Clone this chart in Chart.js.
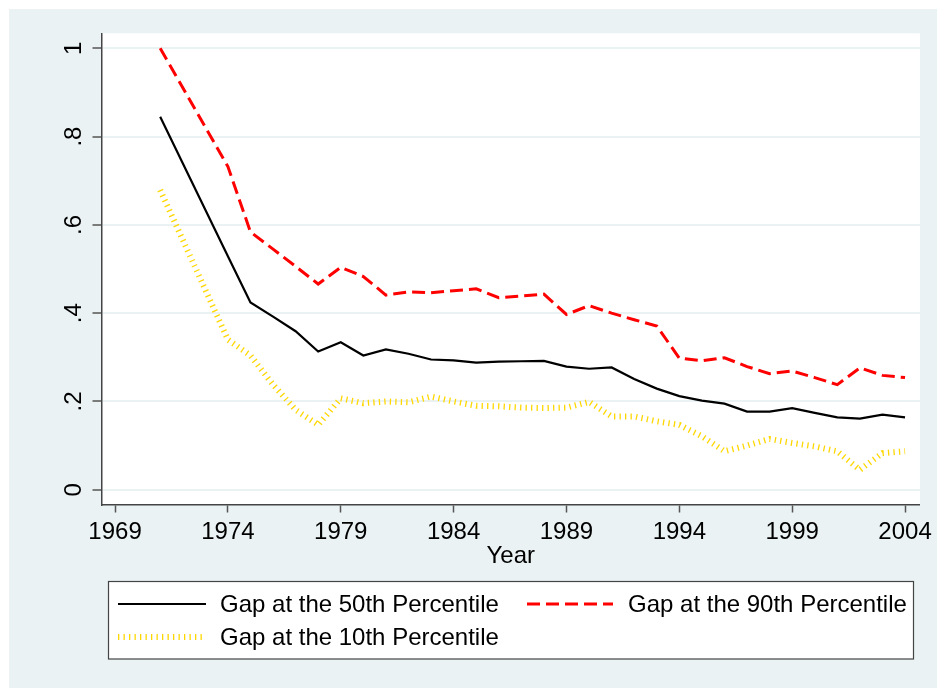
<!DOCTYPE html>
<html>
<head>
<meta charset="utf-8">
<script src="https://cdn.jsdelivr.net/npm/chart.js@4/dist/chart.umd.min.js"></script>
<style>
html,body{margin:0;padding:0;background:#ffffff;}
#wrap{width:937px;height:688px;position:relative;}
canvas{display:block;}
</style>
</head>
<body>
<div id="wrap"><canvas id="c" width="937" height="688"></canvas></div>
<script>
// ---------- data ----------
const years = [1971,1972,1973,1974,1975,1976,1977,1978,1979,1980,1981,1982,1983,1984,1985,1986,1987,1988,1989,1990,1991,1992,1993,1994,1995,1996,1997,1998,1999,2000,2001,2002,2003,2004];
const gap50 = [0.845,null,null,0.529,0.424,0.392,0.359,0.313,0.334,0.304,0.318,0.308,0.295,0.293,0.288,0.290,0.291,0.292,0.279,0.274,0.277,0.251,0.229,0.212,0.202,0.195,0.177,0.177,0.185,0.174,0.164,0.161,0.170,0.164];
const gap90 = [1.000,null,null,0.732,0.584,0.545,0.506,0.466,0.504,0.483,0.441,0.448,0.446,0.451,0.455,0.435,0.439,0.443,0.397,0.417,0.400,0.385,0.371,0.298,0.292,0.299,0.279,0.263,0.269,0.254,0.238,0.276,0.259,0.254];
const gap10 = [0.679,null,null,0.340,0.304,0.238,0.181,0.147,0.207,0.196,0.200,0.198,0.211,0.200,0.190,0.189,0.186,0.185,0.186,0.199,0.166,0.166,0.155,0.147,0.121,0.087,0.100,0.115,0.106,0.098,0.087,0.045,0.083,0.087];
const seriesNames = ['Gap at the 50th Percentile','Gap at the 90th Percentile','Gap at the 10th Percentile'];
const xTickValues = [1969,1974,1979,1984,1989,1994,1999,2004];
const yTickValues = [0,0.2,0.4,0.6,0.8,1];
const yTickLabels = ['0','.2','.4','.6','.8','1'];
const xTitle = 'Year';

// ---------- styling ----------
const FONT_FAMILY = "'Liberation Sans', Arial, Helvetica, sans-serif";
const FONT_SIZE = 24;
const BG = '#EAF2F3';
const AXIS = '#444444';

function toPoints(arr){ return years.map((yr,i)=>({x:yr, y:arr[i]})); }

const datasets = [
  {label:seriesNames[0], data:toPoints(gap50), borderColor:'#000000', borderWidth:2.2, borderDash:[], spanGaps:true, pointRadius:0, tension:0},
  {label:seriesNames[1], data:toPoints(gap90), borderColor:'#FF0000', borderWidth:3, borderDash:[13,6], spanGaps:true, pointRadius:0, tension:0},
  {label:seriesNames[2], data:toPoints(gap10), borderColor:'#FFD700', borderWidth:6, borderDash:[1.3,4.2], borderCapStyle:'butt', spanGaps:true, pointRadius:0, tension:0}
];

const backgroundPlugin = {
  id:'bg',
  beforeDraw(chart){
    const ctx = chart.ctx, a = chart.chartArea;
    ctx.save();
    ctx.fillStyle = '#ffffff';
    ctx.fillRect(0,0,chart.width,chart.height);
    ctx.fillStyle = BG;
    ctx.fillRect(9,9,chart.width-9,chart.height-9);
    ctx.fillStyle = '#ffffff';
    ctx.fillRect(a.left,a.top,a.right-a.left,a.bottom-a.top);
    ctx.restore();
  }
};

const textPlugin = {
  id:'texts',
  afterDraw(chart){
    const ctx = chart.ctx, a = chart.chartArea, ys = chart.scales.y;
    ctx.save();
    ctx.fillStyle = '#000';
    ctx.font = FONT_SIZE + 'px ' + FONT_FAMILY;
    // rotated y tick labels
    yTickValues.forEach((v,i)=>{
      const py = ys.getPixelForValue(v);
      ctx.save();
      ctx.translate(81, py);
      ctx.rotate(-Math.PI/2);
      ctx.textAlign = 'center';
      ctx.textBaseline = 'alphabetic';
      ctx.fillText(yTickLabels[i], 0, 0);
      ctx.restore();
    });
    // x title
    ctx.textAlign = 'center';
    ctx.textBaseline = 'alphabetic';
    ctx.fillText(xTitle, (a.left + a.right)/2, 563);

    // legend box
    ctx.fillStyle = '#ffffff';
    ctx.fillRect(108.5,581.5,805,77.5);
    ctx.strokeStyle = AXIS;
    ctx.lineWidth = 1.2;
    ctx.strokeRect(108.5,581.5,805,77.5);

    const entries = [
      {ds:0, x0:118, x1:206, ly:604, tx:220, ty:612},
      {ds:1, x0:527, x1:613, ly:604, tx:628, ty:612},
      {ds:2, x0:118, x1:202, ly:637, tx:220, ty:645}
    ];
    entries.forEach(e=>{
      const d = chart.data.datasets[e.ds];
      ctx.save();
      ctx.strokeStyle = d.borderColor;
      ctx.lineWidth = d.borderWidth;
      ctx.lineCap = 'butt';
      ctx.setLineDash(d.borderDash || []);
      ctx.beginPath();
      ctx.moveTo(e.x0, e.ly);
      ctx.lineTo(e.x1, e.ly);
      ctx.stroke();
      ctx.restore();
      ctx.fillStyle = '#000';
      ctx.textAlign = 'left';
      ctx.fillText(d.label, e.tx, e.ty);
    });
    ctx.restore();
  }
};

new Chart(document.getElementById('c'), {
  type:'line',
  data:{datasets:datasets},
  options:{
    responsive:false,
    animation:false,
    devicePixelRatio:1,
    layout:{padding:{left:0,right:14.3,top:33.3,bottom:0}},
    plugins:{legend:{display:false}, tooltip:{enabled:false}},
    elements:{point:{radius:0}, line:{borderJoinStyle:'miter'}},
    scales:{
      x:{
        type:'linear',
        min:1968.4, max:2004.66,
        afterBuildTicks(s){ s.ticks = xTickValues.map(v=>({value:v})); },
        afterFit(s){ s.height = 688 - 504.5; },
        ticks:{color:'#000', font:{family:FONT_FAMILY, size:FONT_SIZE}, padding:5, maxRotation:0, minRotation:0, callback:(v)=>String(v)},
        grid:{drawOnChartArea:false, drawTicks:true, tickLength:8, tickColor:'#555', tickWidth:1.5},
        border:{display:true, color:AXIS, width:1.5},
        title:{display:false}
      },
      y:{
        type:'linear',
        min:-0.0335, max:1.034,
        afterBuildTicks(s){ s.ticks = yTickValues.map(v=>({value:v})); },
        afterFit(s){ s.width = 101.5; },
        ticks:{display:false},
        grid:{drawOnChartArea:true, color:BG, lineWidth:2, drawTicks:true, tickLength:9, tickColor:'#555', tickWidth:1.5},
        border:{display:true, color:AXIS, width:1.5}
      }
    }
  },
  plugins:[backgroundPlugin, textPlugin]
});
</script>
</body>
</html>
